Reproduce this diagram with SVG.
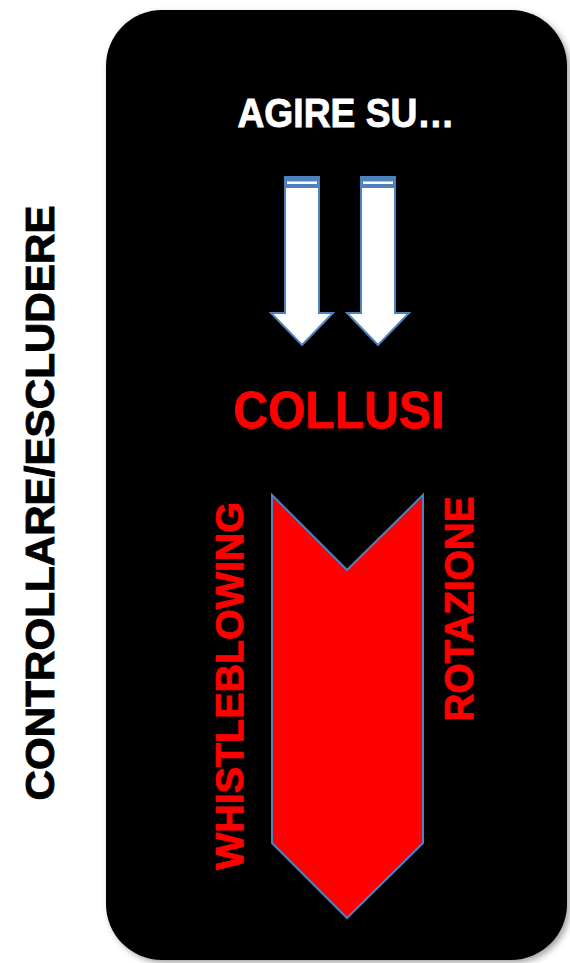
<svg xmlns="http://www.w3.org/2000/svg" width="570" height="963" viewBox="0 0 570 963">
<style>
.t{font-family:"Liberation Sans",Arial,sans-serif;font-weight:bold;stroke-width:0.9;}
.red{fill:#ff0000;stroke:#ff0000;}
.arrow{fill:#ffffff;stroke:#4f81bd;stroke-width:2;}
</style>
<defs>
<filter id="sh" x="-5%" y="-5%" width="115%" height="115%">
<feGaussianBlur in="SourceAlpha" stdDeviation="3"/>
<feOffset dx="3" dy="3" result="b"/>
<feFlood flood-color="#000" flood-opacity="0.35"/>
<feComposite in2="b" operator="in"/>
<feMerge><feMergeNode/><feMergeNode in="SourceGraphic"/></feMerge>
</filter>
</defs>
<rect width="570" height="963" fill="#ffffff"/>
<g id="panel">
<rect x="106" y="10" width="461" height="950" rx="56" ry="56" fill="#060606" filter="url(#sh)"/>
</g>
<g id="side-label">
<text class="t" transform="translate(54,503) rotate(-90)" text-anchor="middle" font-size="40" textLength="595" lengthAdjust="spacingAndGlyphs" fill="#000" stroke="#000">CONTROLLARE/ESCLUDERE</text>
</g>
<g id="agire">
<text class="t" x="346" y="127" text-anchor="middle" font-size="40" textLength="217" lengthAdjust="spacingAndGlyphs" fill="#ffffff" stroke="#ffffff">AGIRE SU…</text>
</g>
<g id="connectors">
<g id="arrow1">
<polygon class="arrow" points="285,177 319,177 319,313 333,313 302,345 271,313 285,313"/>
<rect x="285" y="177" width="34" height="11" fill="#4f81bd"/>
<rect x="287" y="181.5" width="30" height="2.5" fill="#ffffff"/>
</g>
<g id="arrow2">
<polygon class="arrow" points="361,177 395,177 395,313 409,313 378,345 347,313 361,313"/>
<rect x="361" y="177" width="34" height="11" fill="#4f81bd"/>
<rect x="363" y="181.5" width="30" height="2.5" fill="#ffffff"/>
</g>
</g>
<g id="collusi">
<text class="t red" x="339" y="428" text-anchor="middle" font-size="52" textLength="211" lengthAdjust="spacingAndGlyphs">COLLUSI</text>
</g>
<g id="chevron">
<polygon points="272,495 347,570 423,495 423,843 347,918 272,843" fill="#ff0000" stroke="#4f81bd" stroke-width="2"/>
</g>
<g id="whistleblowing">
<text class="t red" transform="translate(243,686) rotate(-90)" text-anchor="middle" font-size="39" textLength="368" lengthAdjust="spacingAndGlyphs">WHISTLEBLOWING</text>
</g>
<g id="rotazione">
<text class="t red" transform="translate(473,609) rotate(-90)" text-anchor="middle" font-size="41" textLength="225" lengthAdjust="spacingAndGlyphs">ROTAZIONE</text>
</g>
</svg>
